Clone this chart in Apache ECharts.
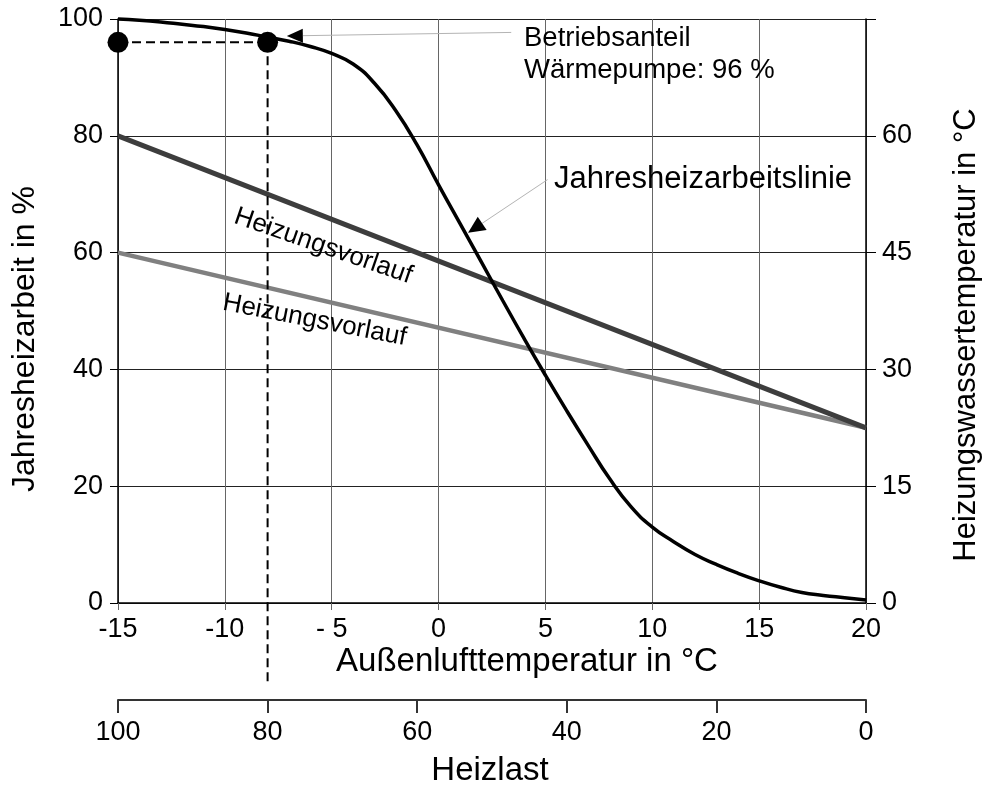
<!DOCTYPE html>
<html>
<head>
<meta charset="utf-8">
<script src="https://cdn.jsdelivr.net/npm/echarts@6/dist/echarts.min.js"></script>
<style>
  html, body { margin: 0; padding: 0; background: #fff; }
  #chart { width: 985px; height: 785px; }
</style>
</head>
<body>
<div id="chart"></div>
<script>
// Outdoor air temperature (°C) and the share of annual heating work above it (%)
const curveTemp  = [-15, -14, -13, -12, -11, -10, -9, -8, -7, -6, -5, -4, -3, -2, -1, 0, 1, 2, 3, 4, 5, 6, 7, 8, 9, 10, 11, 12, 13, 14, 15, 16, 17, 18, 19, 20];
const curveShare = [100, 99.8, 99.5, 99.1, 98.7, 98.2, 97.6, 96.9, 96.2, 95.3, 94.1, 92.3, 89.0, 84.3, 78.4, 71.6, 65.0, 58.4, 51.8, 45.3, 39.0, 32.9, 27.0, 21.3, 16.5, 13.0, 10.5, 8.3, 6.6, 5.1, 3.8, 2.7, 1.8, 1.3, 0.9, 0.5];

// Heating supply temperature lines (°C, right axis)
const supplyTemp = [-15, 20];
const supplyHigh = [60, 22.5];
const supplyLow  = [45, 22.5];

// Bivalence point: heat load 80 % reached at -8 °C, heat pump share 96 %
const bivalentTemp = -8;
const bivalentShare = 96;
const dropLineEnd = -13.7;   // dashed guide runs down towards the heat-load scale

// Tick labels
const tempTickLabels = ['-15', '-10', '- 5', '0', '5', '10', '15', '20'];
const shareTicks = [0, 20, 40, 60, 80, 100];
const waterTicks = [0, 15, 30, 45, 60];
const loadTicks = [100, 80, 60, 40, 20, 0];

const FONT = '"Liberation Sans", Arial, Helvetica, sans-serif';
const TICK_SIZE = 27;
const TITLE_SIZE = 32;
const chart = echarts.init(document.getElementById('chart'));

const option = {
  backgroundColor: '#ffffff',
  animation: false,
  textStyle: { fontFamily: FONT, color: '#000' },
  grid: [
    { left: 118, right: 119, top: 19, bottom: 182, outerBoundsMode: 'none', containLabel: false },
    { left: 118, right: 119, top: 600, height: 100, outerBoundsMode: 'none', containLabel: false }
  ],
  xAxis: [
    {
      type: 'value', gridIndex: 0, min: -15, max: 20, interval: 5,
      axisLine: { show: true, onZero: false, lineStyle: { color: '#000', width: 1.5 } },
      axisTick: { show: true, inside: false, length: 7, lineStyle: { color: '#666', width: 1 } },
      axisLabel: {
        fontSize: TICK_SIZE, color: '#000', fontFamily: FONT, margin: 13,
        formatter: (v, i) => tempTickLabels[i]
      },
      splitLine: { show: true, lineStyle: { color: '#666', width: 1 } }
    },
    {
      type: 'value', gridIndex: 1, min: 0, max: 100, interval: 20, inverse: true,
      position: 'bottom',
      axisLine: { show: true, onZero: false, lineStyle: { color: '#333', width: 2 } },
      axisTick: { show: true, inside: false, length: 13, lineStyle: { color: '#333', width: 2 } },
      axisLabel: {
        fontSize: TICK_SIZE, color: '#000', fontFamily: FONT, margin: 19,
        formatter: v => String(loadTicks[loadTicks.indexOf(v)])
      },
      splitLine: { show: false }
    }
  ],
  yAxis: [
    {
      type: 'value', gridIndex: 0, min: 0, max: 100, interval: 20, position: 'left',
      axisLine: { show: true, onZero: false, lineStyle: { color: '#000', width: 1.5 } },
      axisTick: { show: true, inside: false, length: 8, lineStyle: { color: '#000', width: 1 } },
      axisLabel: {
        fontSize: TICK_SIZE, color: '#000', fontFamily: FONT, margin: 15,
        formatter: v => shareTicks.includes(v) ? String(v) : ''
      },
      splitLine: { show: true, lineStyle: { color: '#222', width: 1 } }
    },
    {
      type: 'value', gridIndex: 0, min: 0, max: 75, interval: 15, position: 'right',
      axisLine: { show: true, onZero: false, lineStyle: { color: '#000', width: 1.5 } },
      axisTick: { show: true, inside: false, length: 10, lineStyle: { color: '#000', width: 1 } },
      axisLabel: {
        fontSize: TICK_SIZE, color: '#000', fontFamily: FONT, margin: 16,
        formatter: v => waterTicks.includes(v) ? String(v) : ''
      },
      splitLine: { show: false }
    },
    {
      type: 'value', gridIndex: 1, min: 0, max: 1, show: false
    }
  ],
  series: [
    {
      name: 'Heizungsvorlauf hoch', type: 'line', xAxisIndex: 0, yAxisIndex: 1,
      data: supplyTemp.map((t, i) => [t, supplyHigh[i]]),
      symbol: 'none', lineStyle: { color: '#3d3d3d', width: 5 }, z: 3
    },
    {
      name: 'Heizungsvorlauf niedrig', type: 'line', xAxisIndex: 0, yAxisIndex: 1,
      data: supplyTemp.map((t, i) => [t, supplyLow[i]]),
      symbol: 'none', lineStyle: { color: '#808080', width: 4.5 }, z: 2
    },
    {
      name: 'Jahresheizarbeitslinie', type: 'line', xAxisIndex: 0, yAxisIndex: 0,
      data: curveTemp.map((t, i) => [t, curveShare[i]]),
      smooth: 0.5, symbol: 'none', clip: false,
      lineStyle: { color: '#000', width: 3.5 }, z: 4
    },
    {
      name: 'Betriebsanteil horizontal', type: 'line', xAxisIndex: 0, yAxisIndex: 0,
      data: [[-15, bivalentShare], [bivalentTemp, bivalentShare]],
      symbol: 'none', clip: false,
      lineStyle: { color: '#000', width: 2, type: [9, 5] }, z: 5
    },
    {
      name: 'Bivalenzpunkt senkrecht', type: 'line', xAxisIndex: 0, yAxisIndex: 0,
      data: [[bivalentTemp, bivalentShare], [bivalentTemp, dropLineEnd]],
      symbol: 'none', clip: false,
      lineStyle: { color: '#000', width: 2, type: [9, 5] }, z: 5
    },
    {
      name: 'Punkte', type: 'scatter', xAxisIndex: 0, yAxisIndex: 0,
      data: [[-15, bivalentShare], [bivalentTemp, bivalentShare]],
      symbol: 'circle', symbolSize: 21, clip: false,
      itemStyle: { color: '#000', opacity: 1 }, z: 6
    }
  ]
};

chart.setOption(option);

// Annotations anchored to data coordinates
const px = (x, y) => chart.convertToPixel({ xAxisIndex: 0, yAxisIndex: 0 }, [x, y]);

function arrow(tail, tip, headLen, headHalf) {
  const a = px(tail[0], tail[1]);
  const b = px(tip[0], tip[1]);
  const dx = b[0] - a[0], dy = b[1] - a[1];
  const len = Math.hypot(dx, dy);
  const ux = dx / len, uy = dy / len;
  const bx = b[0] - ux * headLen, by = b[1] - uy * headLen;
  return [
    {
      type: 'line', z: 20,
      shape: { x1: a[0], y1: a[1], x2: bx, y2: by },
      style: { stroke: '#b4b4b4', lineWidth: 1 }
    },
    {
      type: 'polygon', z: 20,
      shape: { points: [b, [bx - uy * headHalf, by + ux * headHalf], [bx + uy * headHalf, by - ux * headHalf]] },
      style: { fill: '#000' }
    }
  ];
}

function rotatedText(text, at, angleDeg, size) {
  const p = px(at[0], at[1]);
  return {
    type: 'text', z: 20, x: p[0], y: p[1], rotation: -angleDeg * Math.PI / 180,
    style: { text, font: size + 'px ' + FONT, fill: '#000', align: 'center', verticalAlign: 'middle' }
  };
}

const graphics = [
  ...arrow([3.4, 97.7], [-7.1, 97.1], 16, 7),
  ...arrow([5.1, 72.5], [1.38, 63.4], 17, 8),
  {
    type: 'text', z: 20, left: 524, top: 22,
    style: { text: 'Betriebsanteil\nWärmepumpe: 96 %', font: '27.5px ' + FONT, fill: '#000', lineHeight: 32 }
  },
  {
    type: 'text', z: 20, left: 554, top: 164,
    style: { text: 'Jahresheizarbeitslinie', font: '31px ' + FONT, fill: '#000' }
  },
  rotatedText('Heizungsvorlauf', [-5.4, 61.1], 19, 26),
  rotatedText('Heizungsvorlauf', [-5.8, 48.4], 11, 26),
  {
    type: 'text', z: 20, x: 527, y: 662,
    style: { text: 'Außenlufttemperatur in °C', font: '33px ' + FONT, fill: '#000', align: 'center', verticalAlign: 'middle' }
  },
  {
    type: 'text', z: 20, x: 490, y: 771,
    style: { text: 'Heizlast', font: '33px ' + FONT, fill: '#000', align: 'center', verticalAlign: 'middle' }
  },
  {
    type: 'text', z: 20, x: 25, y: 339, rotation: Math.PI / 2,
    style: { text: 'Jahresheizarbeit in %', font: TITLE_SIZE + 'px ' + FONT, fill: '#000', align: 'center', verticalAlign: 'middle' }
  },
  {
    type: 'text', z: 20, x: 966, y: 335, rotation: Math.PI / 2,
    style: { text: 'Heizungswassertemperatur in °C', font: '31px ' + FONT, fill: '#000', align: 'center', verticalAlign: 'middle' }
  }
];

chart.setOption({ graphic: graphics });
</script>
</body>
</html>
